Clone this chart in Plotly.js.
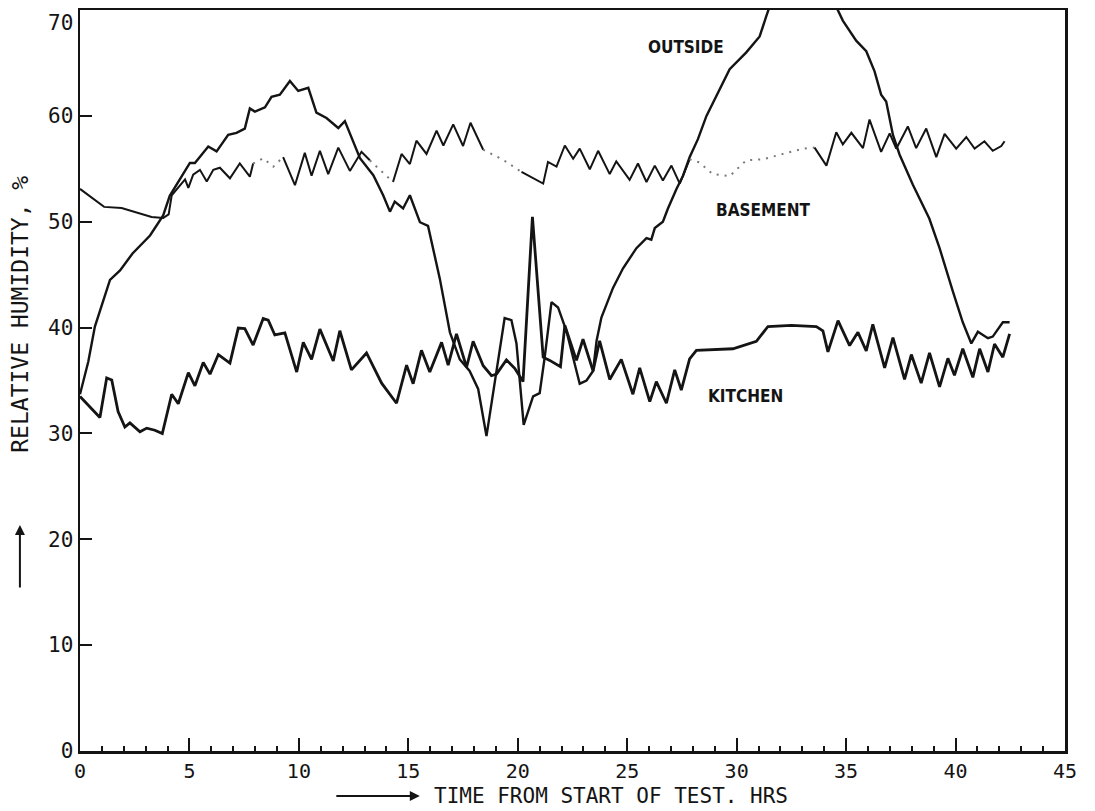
<!DOCTYPE html>
<html><head><meta charset="utf-8">
<script src="https://cdn.plot.ly/plotly-3.0.1.min.js"></script>
<style>html,body{margin:0;padding:0;background:#fff;}#chart{width:1095px;height:811px;}</style>
</head><body><div id="chart"></div>
<script>
// ---- data (hours from start of test, relative humidity %) ----
const outsideHours = [0, 0.38, 0.68, 1.37, 1.83, 2.4, 3.2, 3.8, 4.1, 4.57,
  5.02, 5.25, 5.86, 6.24, 6.77, 7.15, 7.53, 7.76, 7.99, 8.45,
  8.75, 9.13, 9.59, 9.97, 10.43, 10.8, 11.26, 11.8, 12.1, 12.79,
  13.4, 13.85, 14.16, 14.38, 14.76, 15.07, 15.53, 15.9, 16.44, 16.9,
  17.35, 17.8, 18.19, 18.57, 19.1, 19.4, 19.71, 19.94, 20.27, 20.7,
  21.0, 21.23, 21.54, 21.84, 22.22, 22.83, 23.14, 23.44, 23.6, 23.82,
  24.35, 24.81, 25.42, 25.88, 26.1, 26.26, 26.63, 26.86, 27.25, 27.55,
  27.85, 28.23, 28.62, 28.95, 29.68, 30.44, 31.05, 31.35, 31.5, null,
  34.55, 34.85, 35.46, 35.92, 36.3, 36.6, 36.83, 37.14, 37.44, 38.05,
  38.8, 39.27, 39.88, 40.33, 40.72, 41.02, 41.48, 41.7, 42.16, 42.47];
const outsideRH = [33.7, 36.8, 40.1, 44.5, 45.4, 47.0, 48.7, 50.6, 52.45, 54.0,
  55.55, 55.55, 57.1, 56.65, 58.2, 58.4, 58.8, 60.7, 60.4, 60.8,
  61.8, 62.0, 63.3, 62.35, 62.65, 60.3, 59.8, 58.85, 59.5, 56.0,
  54.4, 52.5, 50.95, 51.9, 51.25, 52.5, 49.95, 49.6, 44.6, 39.55,
  37.0, 35.9, 34.2, 29.75, 37.0, 40.9, 40.7, 38.5, 30.8, 33.5,
  33.8, 37.2, 42.4, 41.9, 39.7, 34.7, 35.0, 35.9, 38.75, 40.95,
  43.75, 45.6, 47.5, 48.45, 48.3, 49.4, 50.0, 51.25, 53.1, 54.35,
  56.1, 57.8, 60.0, 61.4, 64.4, 66.0, 67.5, 69.4, 70.3, null,
  70.3, 69.0, 67.1, 66.1, 64.2, 62.0, 61.35, 58.2, 56.35, 53.5,
  50.3, 47.5, 43.4, 40.5, 38.5, 39.6, 39.0, 39.15, 40.5, 40.5];

const kitchenHours = [0, 0.91, 1.22, 1.45, 1.74, 2.05, 2.28, 2.74, 3.05, 3.42,
  3.76, 4.19, 4.49, 4.95, 5.25, 5.63, 5.94, 6.32, 6.85, 7.23,
  7.53, 7.91, 8.37, 8.6, 8.9, 9.36, 9.9, 10.2, 10.58, 10.96,
  11.57, 11.87, 12.4, 13.09, 13.78, 14.46, 14.92, 15.22, 15.6, 15.98,
  16.52, 16.82, 17.2, 17.66, 17.96, 18.42, 18.8, 19.03, 19.48, 19.86,
  20.24, 20.67, 21.16, 21.46, 21.95, 22.15, 22.68, 22.98, 23.44, 23.74,
  24.2, 24.73, 25.26, 25.57, 26.03, 26.33, 26.79, 27.17, 27.47, 27.85,
  28.16, 29.83, 30.9, 31.43, 32.5, 33.64, 33.94, 34.17, 34.63, 35.16,
  35.54, 35.92, 36.22, 36.76, 37.14, 37.67, 37.98, 38.43, 38.81, 39.27,
  39.65, 39.95, 40.33, 40.79, 41.1, 41.48, 41.78, 42.16, 42.47];
const kitchenRH = [33.5, 31.5, 35.25, 35.05, 32.06, 30.6, 31.0, 30.15, 30.5, 30.3,
  29.98, 33.7, 32.8, 35.75, 34.5, 36.7, 35.6, 37.45, 36.65, 39.95,
  39.9, 38.35, 40.85, 40.7, 39.3, 39.5, 35.8, 38.6, 37.0, 39.85,
  36.85, 39.7, 36.0, 37.6, 34.75, 32.85, 36.45, 34.7, 37.85, 35.8,
  38.6, 36.45, 39.4, 36.25, 38.7, 36.4, 35.45, 35.6, 36.95, 36.15,
  34.9, 50.45, 37.2, 36.9, 36.3, 40.2, 36.9, 38.9, 35.9, 38.75,
  35.1, 37.0, 33.7, 36.2, 33.0, 34.9, 32.85, 36.0, 34.1, 37.05,
  37.85, 38.0, 38.7, 40.1, 40.2, 40.1, 39.7, 37.7, 40.65, 38.3,
  39.55, 37.8, 40.3, 36.2, 39.05, 35.1, 37.45, 34.75, 37.6, 34.4,
  37.1, 35.5, 38.0, 35.3, 38.0, 35.8, 38.45, 37.2, 39.4];

const basementHours = [0, 1.1, 1.9, 2.74, 3.27, 3.8, 4.05, 4.19, 4.57, 4.8,
  4.95, 5.17, 5.48, 5.79, 6.09, 6.39, 6.85, 7.3, 7.76, 7.91,
  8.37, 8.83, 9.28, 9.82, 10.27, 10.58, 10.96, 11.34, 11.8, 12.33,
  12.86, 13.24, 14.3, 14.69, 15.07, 15.37, 15.83, 16.29, 16.6, 17.05,
  17.5, 17.84, 18.42, 19.33, 20.17, 21.16, 21.38, 21.77, 22.15, 22.53,
  22.83, 23.29, 23.67, 24.2, 24.5, 25.11, 25.49, 25.88, 26.26, 26.63,
  27.02, 27.4, 27.85, 28.3, 28.9, 29.68, 29.98, 30.44, 31.2, 32.27,
  33.03, 33.56, 34.1, 34.55, 34.85, 35.24, 35.77, 36.07, 36.6, 36.99,
  37.29, 37.82, 38.2, 38.66, 39.12, 39.5, 40.03, 40.49, 40.87, 41.32,
  41.7, 42.09, 42.24];
const basementRH = [53.1, 51.4, 51.3, 50.75, 50.45, 50.35, 50.7, 52.5, 53.4, 54.0,
  53.2, 54.45, 54.9, 53.8, 54.9, 55.1, 54.1, 55.5, 54.25, 55.5,
  56.0, 55.2, 56.1, 53.45, 56.5, 54.35, 56.7, 54.5, 57.0, 54.8,
  56.6, 55.8, 53.75, 56.4, 55.45, 57.65, 56.4, 58.6, 57.2, 59.2,
  57.15, 59.35, 56.8, 55.85, 54.7, 53.6, 55.65, 55.2, 57.2, 55.95,
  56.9, 54.95, 56.7, 54.5, 55.7, 53.95, 55.5, 53.75, 55.3, 53.9,
  55.3, 53.6, 55.9, 55.6, 54.5, 54.3, 54.9, 55.8, 55.9, 56.5,
  56.9, 57.0, 55.3, 58.45, 57.3, 58.4, 56.95, 59.65, 56.6, 58.35,
  56.9, 59.0, 56.95, 58.8, 56.1, 58.3, 56.9, 58.0, 56.9, 57.6,
  56.7, 57.15, 57.6];
// hour spans where the basement record is plotted as a faint dotted trace
const basementDottedSpans = [[7.91, 9.28], [13.24, 14.3], [18.42, 20.17], [27.85, 33.56]];

const xTickValues = [0, 5, 10, 15, 20, 25, 30, 35, 40, 45];
const yTickValues = [0, 10, 20, 30, 40, 50, 60, 70];
const seriesNames = ['OUTSIDE', 'BASEMENT', 'KITCHEN'];
const xTitle = 'TIME FROM START OF TEST. HRS';
const yTitle = 'RELATIVE HUMIDITY, %';

// ---- build traces ----
const INK = '#141414';
const traces = [];

traces.push({x: outsideHours, y: outsideRH, type: 'scatter', mode: 'lines',
  name: seriesNames[0], connectgaps: false, line: {color: INK, width: 2.4}});

// basement: split into solid / dotted runs
function isDotted(a, b) {
  const m = (a + b) / 2;
  return basementDottedSpans.some(s => m >= s[0] && m <= s[1]);
}
let runStart = 0;
let runDotted = isDotted(basementHours[0], basementHours[1]);
for (let i = 1; i < basementHours.length; i++) {
  const last = i === basementHours.length - 1;
  const nextDotted = last ? null : isDotted(basementHours[i], basementHours[i + 1]);
  if (last || nextDotted !== runDotted) {
    traces.push({
      x: basementHours.slice(runStart, i + 1), y: basementRH.slice(runStart, i + 1),
      type: 'scatter', mode: 'lines', name: seriesNames[1], showlegend: false,
      line: runDotted ? {color: '#7a7a7a', width: 2, dash: '2px,6px'} : {color: INK, width: 2}
    });
    runStart = i;
    runDotted = nextDotted;
  }
}

traces.push({x: kitchenHours, y: kitchenRH, type: 'scatter', mode: 'lines',
  name: seriesNames[2], line: {color: INK, width: 2.8}});

const monoFont = 'DejaVu Sans Mono, Liberation Mono, monospace';
const labelFont = {family: 'DejaVu Sans Condensed, Liberation Sans Narrow, sans-serif', size: 17, color: INK, weight: 'bold'};
const yTopValue = yTickValues[yTickValues.length - 1];

const layout = {
  width: 1095, height: 811,
  margin: {l: 80, r: 30, t: 10, b: 60},
  paper_bgcolor: '#ffffff', plot_bgcolor: '#ffffff',
  showlegend: false,
  font: {family: monoFont, color: INK},
  xaxis: {
    range: [0, 45], tickmode: 'array', tickvals: xTickValues,
    ticks: 'inside', ticklen: 13, tickwidth: 2, tickcolor: INK,
    minor: {tick0: 0, dtick: 1, ticks: 'inside', ticklen: 5, tickwidth: 2, tickcolor: INK, showgrid: false},
    showline: true, linecolor: INK, linewidth: 2.5, mirror: true,
    showgrid: false, zeroline: false, ticklabeloverflow: 'allow',
    tickfont: {family: monoFont, size: 20, color: INK}
  },
  yaxis: {
    range: [0, 70], tickmode: 'array', tickvals: yTickValues,
    // the top label sits just below the corner in the original, drawn as an annotation below
    ticktext: yTickValues.map(v => v === yTopValue ? '' : String(v)),
    ticks: 'inside', ticklen: 12, tickwidth: 2, tickcolor: INK,
    showline: true, linecolor: INK, linewidth: 2.5, mirror: true,
    showgrid: false, zeroline: false, ticklabeloverflow: 'allow',
    tickfont: {family: monoFont, size: 21, color: INK}
  },
  annotations: [
    {text: String(yTopValue), xref: 'paper', yref: 'y', x: 0, y: yTopValue, xanchor: 'right', yanchor: 'top',
      xshift: -5, yshift: 1, showarrow: false, font: {family: monoFont, size: 21, color: INK}},
    {text: seriesNames[0], x: 27.7, y: 66.5, xref: 'x', yref: 'y', showarrow: false, font: labelFont},
    {text: seriesNames[1], x: 31.2, y: 51.1, xref: 'x', yref: 'y', showarrow: false, font: labelFont},
    {text: seriesNames[2], x: 30.4, y: 33.5, xref: 'x', yref: 'y', showarrow: false, font: labelFont},
    {text: xTitle, xref: 'paper', yref: 'paper', x: 0.357, y: -0.0607, xanchor: 'left', yanchor: 'middle',
      showarrow: false, font: {family: monoFont, size: 21, color: INK}},
    {text: '', xref: 'paper', yref: 'paper', x: 0.345, y: -0.0607, ax: -85, ay: 0,
      showarrow: true, arrowhead: 2, arrowsize: 1, arrowwidth: 2, arrowcolor: INK},
    {text: yTitle, xref: 'paper', yref: 'paper', x: -0.061, y: 0.59, textangle: -90,
      xanchor: 'center', yanchor: 'middle', showarrow: false, font: {family: monoFont, size: 23, color: INK}},
    {text: '', xref: 'paper', yref: 'paper', x: -0.061, y: 0.305, ax: 0, ay: 64,
      showarrow: true, arrowhead: 2, arrowsize: 1, arrowwidth: 2, arrowcolor: INK}
  ]
};

Plotly.newPlot('chart', traces, layout, {displayModeBar: false, staticPlot: true});
</script>
</body></html>
